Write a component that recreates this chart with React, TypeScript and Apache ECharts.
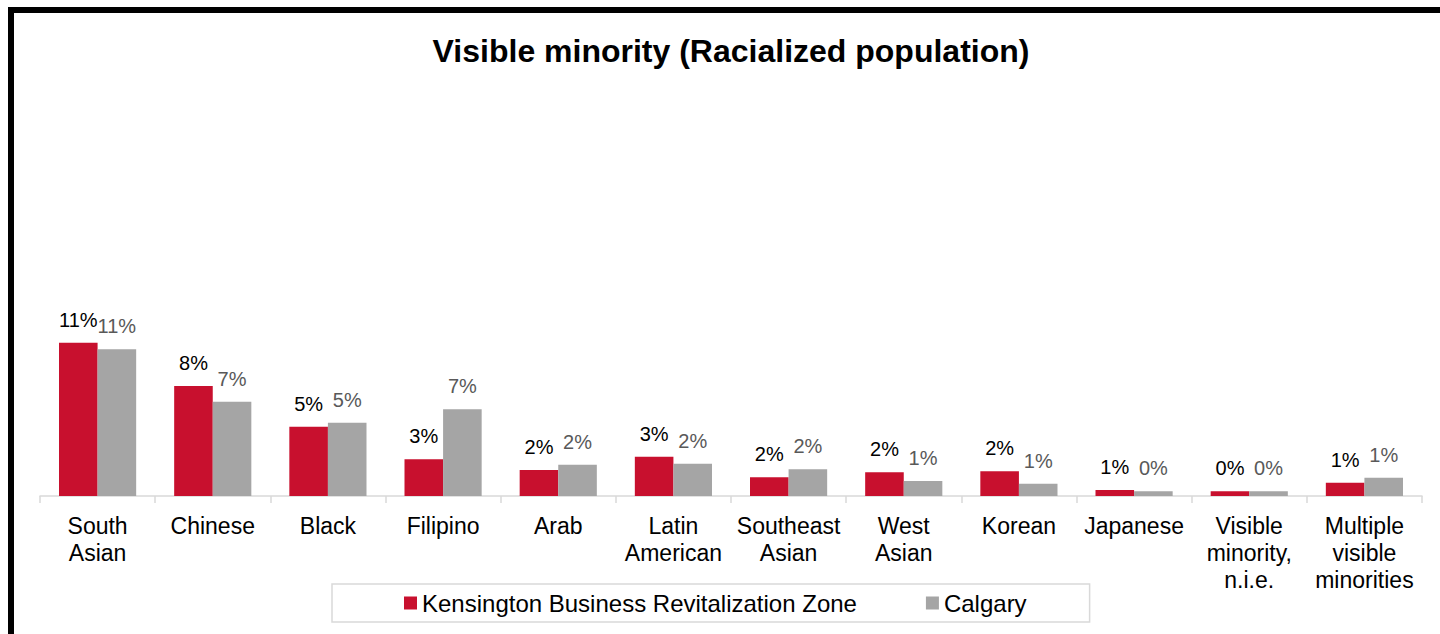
import React, { useEffect, useRef } from "react";
import * as echarts from "echarts";

const categories = [
  "South\nAsian",
  "Chinese",
  "Black",
  "Filipino",
  "Arab",
  "Latin\nAmerican",
  "Southeast\nAsian",
  "West\nAsian",
  "Korean",
  "Japanese",
  "Visible\nminority,\nn.i.e.",
  "Multiple\nvisible\nminorities",
];

const kbrzValues = [11.49, 8.25, 5.19, 2.75, 1.95, 2.95, 1.4, 1.78, 1.85, 0.45, 0.35, 1.0];
const calgaryValues = [11.0, 7.07, 5.49, 6.5, 2.35, 2.42, 2.0, 1.12, 0.92, 0.35, 0.35, 1.37];

const kbrzLabels = ["11%", "8%", "5%", "3%", "2%", "3%", "2%", "2%", "2%", "1%", "0%", "1%"];
const calgaryLabels = ["11%", "7%", "5%", "7%", "2%", "2%", "2%", "1%", "1%", "0%", "0%", "1%"];

const seriesNames = ["Kensington Business Revitalization Zone", "Calgary"];
const titleText = "Visible minority (Racialized population)";

const FONT = "'Liberation Sans', Arial, sans-serif";

export default function App() {
  const ref = useRef<HTMLDivElement>(null);

  useEffect(() => {
    if (!ref.current) return;
    const chart = echarts.init(ref.current, null, { renderer: "svg" });
    chart.setOption({
      animation: false,
      backgroundColor: "#ffffff",
      textStyle: { fontFamily: FONT },
      title: {
        text: titleText,
        left: 726,
        textAlign: "center",
        top: 30,
        textStyle: { fontFamily: FONT, fontSize: 32, fontWeight: "bold", color: "#000" },
      },
      graphic: [
        { type: "rect", shape: { x: 8, y: 7, width: 1432, height: 6 }, style: { fill: "#000" } },
        { type: "rect", shape: { x: 8, y: 7, width: 6, height: 627 }, style: { fill: "#000" } },
      ],
      legend: {
        left: 332,
        top: 584,
        padding: [7, 63, 7, 72],
        borderColor: "#d9d9d9",
        borderWidth: 1.5,
        itemWidth: 13,
        itemHeight: 13,
        itemGap: 69,
        icon: "rect",
        textStyle: { fontFamily: FONT, fontSize: 24, color: "#000" },
        data: seriesNames,
      },
      grid: { left: 40, right: 18, top: 96, bottom: 138 },
      xAxis: {
        type: "category",
        data: categories,
        axisLine: { lineStyle: { color: "#d9d9d9", width: 1.5 } },
        axisTick: { show: true, length: 7, alignWithLabel: false, lineStyle: { color: "#d9d9d9", width: 1.5 } },
        axisLabel: {
          interval: 0,
          margin: 16,
          fontFamily: FONT,
          fontSize: 23,
          lineHeight: 27,
          color: "#000",
        },
      },
      yAxis: {
        type: "value",
        min: 0,
        max: 30,
        show: false,
        splitLine: { show: false },
      },
      series: [
        {
          name: seriesNames[0],
          type: "bar",
          data: kbrzValues,
          barGap: "0%",
          barCategoryGap: "33%",
          itemStyle: { color: "#c8102e" },
          label: {
            show: true,
            position: "top",
            distance: 13,
            fontFamily: FONT,
            fontSize: 20,
            color: "#000",
            formatter: (p: any) => kbrzLabels[p.dataIndex],
          },
        },
        {
          name: seriesNames[1],
          type: "bar",
          data: calgaryValues,
          barGap: "0%",
          barCategoryGap: "33%",
          itemStyle: { color: "#a5a5a5" },
          label: {
            show: true,
            position: "top",
            distance: 13,
            fontFamily: FONT,
            fontSize: 20,
            color: "#595959",
            formatter: (p: any) => calgaryLabels[p.dataIndex],
          },
        },
      ],
    });
    return () => chart.dispose();
  }, []);

  return (
    <div
      ref={ref}
      style={{ position: "absolute", left: 0, top: 0, width: 1440, height: 634 }}
    />
  );
}
